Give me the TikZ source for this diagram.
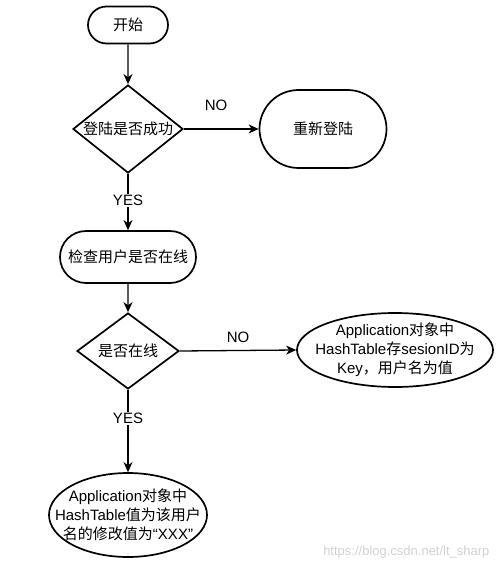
\documentclass[tikz,border=0pt]{standalone}
\usepackage{fontspec}
\setmainfont{Liberation Sans}
\newfontfamily\cjk{Noto Sans CJK SC}
\usetikzlibrary{shapes.geometric,shapes.misc,arrows.meta}

\begin{document}
\begin{tikzpicture}[x=1pt,y=1pt,yscale=-1,
  every node/.style={font=\fontsize{15}{19}\selectfont},
  terminal/.style={draw,line width=1.7pt,rounded rectangle,inner sep=0pt,align=center},
  oval/.style={draw,line width=1.7pt,ellipse,inner sep=-20pt,align=center},
  decision/.style={draw,line width=1.7pt,diamond,inner sep=0pt},
  flow/.style={line width=1.3pt,-{Stealth[length=10pt,width=9pt,inset=3pt]}},
  answer/.style={fill=white,inner sep=1pt}]
%set diagram size 503 x 569
\useasboundingbox (0,0) rectangle (503,569);
% Start
\node[terminal,minimum width=80,minimum height=37] (start) at (128,25) {\cjk 开始};
% Login check
\node[decision,minimum width=110,minimum height=88] (login) at (128,129) {\makebox[0pt]{\cjk 登陆是否成功}};
\node[terminal,minimum width=127,minimum height=78] (relogin) at (323,129) {\cjk 重新登陆};
% Online check
\node[terminal,minimum width=136,minimum height=52] (check) at (128,257) {\cjk 检查用户是否在线};
\node[decision,minimum width=102,minimum height=76] (online) at (128,351) {\makebox[0pt]{\cjk 是否在线}};
\node[oval,minimum width=196,minimum height=74] (store) at (395,350) {Application{\cjk 对象中}\\HashTable{\cjk 存}sesionID{\cjk 为}\\Key{\cjk ，用户名为值}};
\node[oval,minimum width=158,minimum height=84] (update) at (128,515) {Application{\cjk 对象中}\\HashTable{\cjk 值为该用户}\\{\cjk 名的修改值为}“XXX”};
% Connectors
\draw[flow] (start) -- (login);
\draw[flow] (login) -- node[pos=0.43,above=14pt] {NO} (relogin);
\draw[flow] (login) -- node[answer,pos=0.47] {YES} (check);
\draw[flow] (check) -- (online);
\draw[flow] (online.east) -- node[midway,above=4pt] {NO} (store.west);
\draw[flow] (online) -- node[answer,pos=0.35] {YES} (update);
% Watermark
\node[text=black!18,font=\fontsize{13}{15}\selectfont,anchor=east] (mark) at (493,552) {https://blog.csdn.net/lt\_sharp};
\end{tikzpicture}
\end{document}
